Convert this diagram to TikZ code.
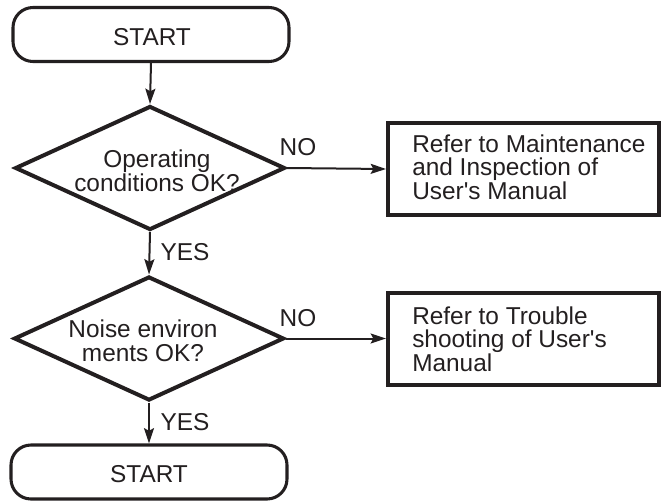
\documentclass[tikz,border=0pt]{standalone}
\usepackage{fontspec}
\setmainfont{Liberation Sans}
\usetikzlibrary{shapes.geometric,arrows.meta}
\definecolor{ink}{HTML}{231F20}
\begin{document}
\begin{tikzpicture}[x=0.75pt,y=-0.75pt,
  txt/.style={font=\fontsize{18.3pt}{17pt}\selectfont, text=ink, inner sep=0pt},
  dtxt/.style={font=\fontsize{18.3pt}{18pt}\selectfont, text=ink, inner sep=0pt, align=center},
  btxt/.style={font=\fontsize{18.3pt}{17pt}\selectfont, text=ink, inner sep=0pt, align=left, anchor=west},
  term/.style={draw=ink, line width=2.3pt, rounded corners=15pt, minimum width=207pt, minimum height=40.5pt, inner sep=0pt},
  decis/.style={draw=ink, line width=3pt, diamond, inner sep=0pt, minimum width=202.5pt, minimum height=93pt},
  procbox/.style={draw=ink, line width=3pt, rectangle, inner sep=0pt, minimum width=203.25pt, minimum height=69pt},
  flow/.style={draw=ink, line width=1.5pt, -{Stealth[length=11.5pt,width=7.5pt,inset=2pt]}}
]
\useasboundingbox (0,0) rectangle (663,500);

% terminals
\node[term] (start1) at (151,34.5) {};
\node[txt] (start1t) at (152,37) {START};
\node[term] (start2) at (149,472) {};
\node[txt] (start2t) at (149,474) {START};

% decisions
\node[decis] (d1) at (150,168) {};
\node[dtxt] (d1t) at (157,171) {Operating\\conditions OK?};
\node[decis] (d2) at (149,338.5) {};
\node[dtxt] (d2t) at (143,341) {Noise environ\\ments OK?};

% boxes
\node[procbox] (b1) at (523.5,169) {};
\node[btxt] (b1t) at (412,167.5) {Refer to Maintenance\\and Inspection of\\User\textquotesingle s Manual};
\node[procbox] (b2) at (523.5,339) {};
\node[btxt] (b2t) at (412,339) {Refer to Trouble\\shooting of User\textquotesingle s\\Manual};

% labels
\node[txt] (no1) at (298,147) {NO};
\node[txt] (no2) at (298,318) {NO};
\node[txt] (yes1) at (185,252) {YES};
\node[txt] (yes2) at (185,422) {YES};

% connectors
\draw[flow] (start1.south) -- (d1.north);
\draw[flow] (d1.south) -- (d2.north);
\draw[flow] (d2.south) -- (start2.north);
\draw[flow] (d1.east) -- (b1.west);
\draw[flow] (d2.east) -- (b2.west |- d2.east);
\end{tikzpicture}
\end{document}
